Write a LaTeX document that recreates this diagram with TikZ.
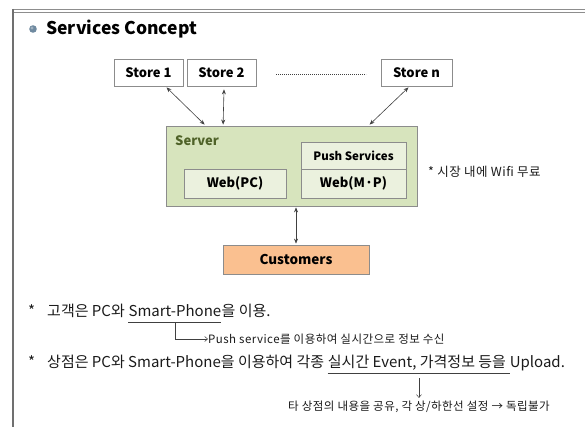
\documentclass[tikz,border=0pt]{standalone}
\usepackage{fontspec}
\setmainfont{Noto Sans CJK KR}
\usetikzlibrary{arrows.meta,calc}
\definecolor{framegray}{HTML}{707070}
\definecolor{boxgray}{HTML}{8C8C8C}
\definecolor{srvfill}{HTML}{D7E4BD}
\definecolor{innerfill}{HTML}{EBF1DE}
\definecolor{custfill}{HTML}{FAC090}
\definecolor{olive}{HTML}{4F6228}
\definecolor{bulletc}{HTML}{6F8AA0}
\definecolor{arrowc}{HTML}{404040}
\definecolor{textc}{HTML}{1A1A1A}
\begin{document}
\begin{tikzpicture}[x=1pt,y=-1pt,
  boxbase/.style={draw=boxgray, line width=0.8pt, inner sep=0pt, font=\fontsize{13}{15}\selectfont\bfseries},
  storebox/.style={boxbase, fill=white, minimum height=27pt},
  innerbox/.style={boxbase, fill=innerfill},
  biarrow/.style={arrowc, line width=0.6pt, {Stealth[length=5pt,width=4pt]}-{Stealth[length=5pt,width=4pt]}},
  linetext/.style={inner sep=0pt, anchor=base west, text=textc, font=\fontsize{15}{17}\selectfont},
  smalltext/.style={inner sep=0pt, anchor=west, text=textc, font=\fontsize{11.5}{13}\selectfont\addfontfeature{LetterSpace=4}},
  thinarrow/.style={arrowc, line width=0.5pt, -{Straight Barb[length=3pt,width=5pt]}}
]
\useasboundingbox (0,0) rectangle (585,427);
% frame
\draw[framegray!80, line width=0.7pt] (13,9) -- (585,9);
\draw[framegray!80, line width=0.7pt] (13,12) -- (585,12);
\draw[framegray, line width=2pt] (13,9) -- (13,427);
% title
\fill[bulletc] (33,29) circle (3.8pt);
\fill[white, opacity=0.35] (32,28) circle (1.6pt);
\node[inner sep=0pt, anchor=base west, font=\fontsize{17.5}{20}\selectfont\bfseries] (title) at (46,35) {Services Concept};
% stores
\node[storebox, minimum width=69pt] (s1) at (148.5,72.5) {Store 1};
\node[storebox, minimum width=69pt] (s2) at (221.5,72.5) {Store 2};
\node[storebox, minimum width=71pt] (sn) at (416.5,72.5) {Store n};
\coordinate (d1) at (276,74);
\coordinate (d2) at (366,74);
\draw[arrowc, line width=0.8pt, dash pattern=on 0.8pt off 1.2pt] (d1) -- (d2);
% server
\node[draw=boxgray, line width=0.8pt, fill=srvfill, minimum width=251pt, minimum height=80pt, inner sep=0pt] (srv) at (291.5,166) {};
\node[inner sep=0pt, anchor=west, text=olive, font=\fontsize{13}{15}\selectfont\bfseries] (srvlab) at (175,141) {Server};
\node[innerbox, minimum width=105pt, minimum height=27pt, font=\fontsize{11.5}{13}\selectfont\bfseries] (push) at (353.5,155.5) {Push Services};
\node[innerbox, minimum width=102pt, minimum height=29pt] (wpc) at (235,183.5) {Web(PC)};
\node[innerbox, minimum width=105pt, minimum height=29pt] (wmp) at (353.5,183.5) {Web(M·P)};
\node[smalltext, font=\fontsize{12.5}{14}\selectfont\addfontfeature{LetterSpace=4}] (wifi) at (428,172) {* 시장 내에 Wifi 무료};
% customers
\node[boxbase, fill=custfill, minimum width=146pt, minimum height=29pt, font=\fontsize{13.5}{15}\selectfont\bfseries] (cu) at (296,259.5) {Customers};
% arrows
\draw[biarrow] ($(s1.south)+(18,1)$) -- ($(srv.north west)+(39,-1)$);
\draw[biarrow] ($(s2.south)+(2.5,3)$) -- ($(srv.north west)+(57.5,-1)$);
\draw[biarrow] ($(sn.south)+(-8,1)$) -- ($(srv.north west)+(204,-1)$);
\draw[biarrow] ($(cu.north |- srv.south)+(0,1)$) -- ($(cu.north)+(0,-1)$);
% line 1
\node[linetext] (st1) at (28,316) {*};
\node[linetext] (t1a) at (47,316) {고객은 PC와\ \mbox{}};
\node[linetext] (t1b) at (t1a.base east) {Smart-Phone};
\node[linetext] (t1c) at (t1b.base east) {을 이용.};
\draw[arrowc, line width=0.6pt] ($(t1b.base west)+(0,6)$) coordinate (u1a) -- ($(t1b.base east)+(0,6)$) coordinate (u1b);
\node[smalltext] (n1) at (208,339) {Push service를 이용하여 실시간으로 정보 수신};
\draw[thinarrow] ($(u1a)!0.5!(u1b)$) |- (n1.west);
% line 2
\node[linetext] (st2) at (28,367) {*};
\node[linetext] (t2a) at (47,367) {상점은 PC와 Smart-Phone을 이용하여 각종\ \mbox{}};
\node[linetext] (t2b) at (t2a.base east) {실시간 Event, 가격정보 등을};
\node[linetext] (t2c) at (t2b.base east) {\mbox{}\ Upload.};
\draw[arrowc, line width=0.6pt] ($(t2b.base west)+(0,6)$) coordinate (u2a) -- ($(t2b.base east)+(4,6)$) coordinate (u2b);
\coordinate (u2m) at ($(u2a)!0.5!(u2b)$);
\node[smalltext, anchor=center] (n2) at ($(u2m)+(0,34)$) {타 상점의 내용을 공유, 각 상/하한선 설정 → 독립불가};
\draw[thinarrow] ($(u2m)+(0,5)$) -- ($(n2.north)+(0,-3)$);
\end{tikzpicture}
\end{document}
